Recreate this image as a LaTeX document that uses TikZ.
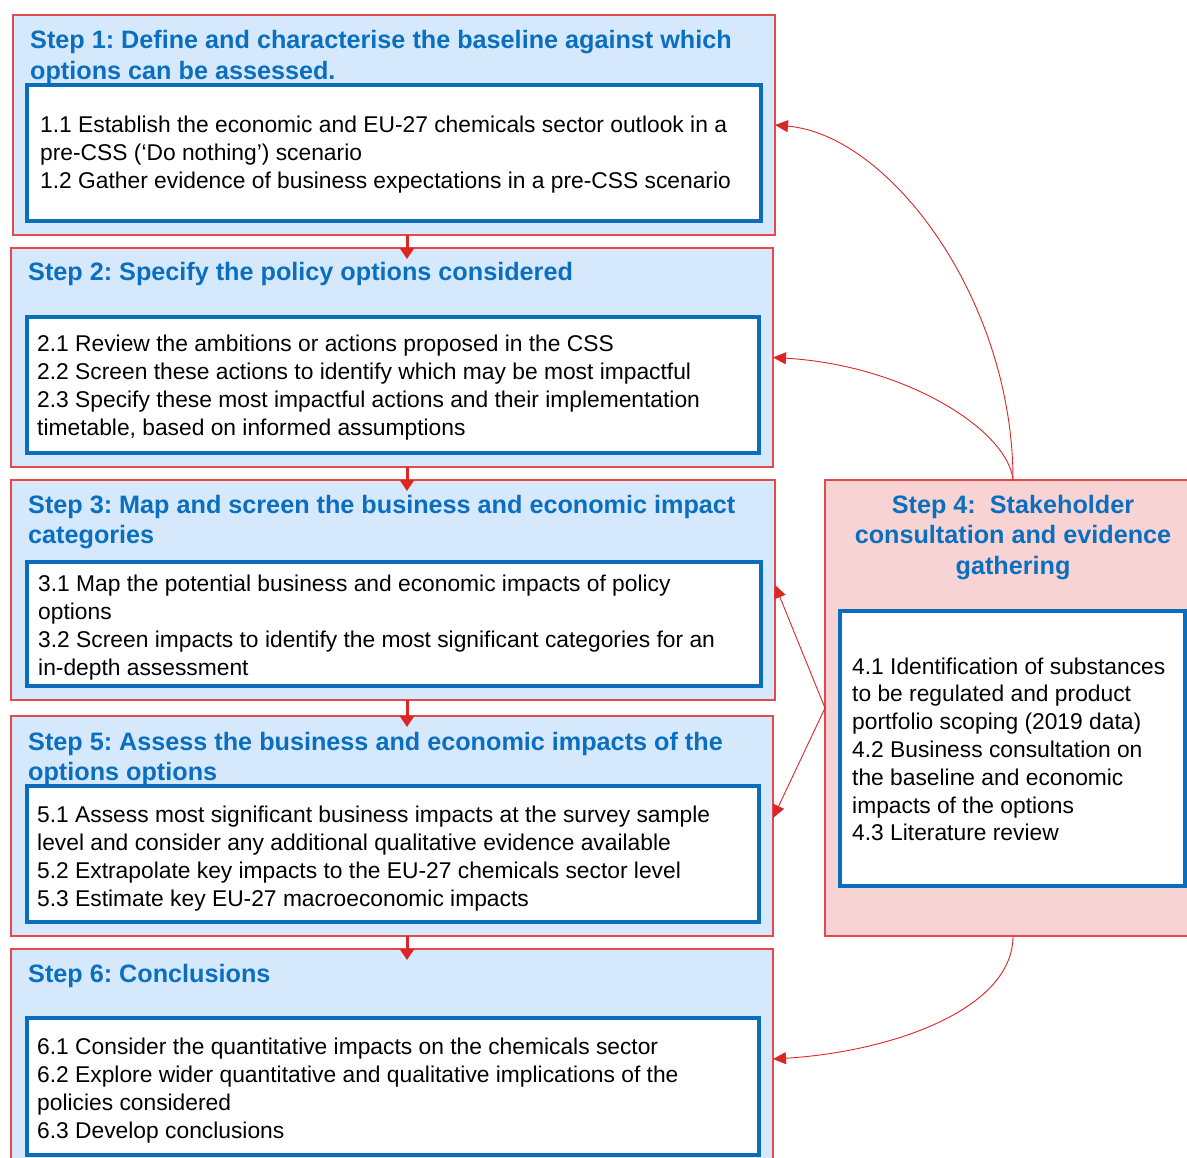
\documentclass[tikz,border=0pt]{standalone}
\usepackage{fontspec}
\setmainfont{Liberation Sans}
\usetikzlibrary{arrows.meta}
\frenchspacing
\definecolor{lblue}{HTML}{D5E8FC}
\definecolor{lpink}{HTML}{F7D3D3}
\definecolor{bred}{HTML}{E5484D}
\definecolor{ared}{HTML}{DC2626}
\definecolor{dblue}{HTML}{0A6EBD}
\definecolor{hblue}{HTML}{0B6FC0}
\newcommand{\blk}[1]{\vtop{\halign{##\hfil\cr #1\crcr}}}
\newcommand{\cblk}[1]{\vtop{\halign{\hfil##\hfil\cr #1\crcr}}}
\begin{document}
\begin{tikzpicture}[x=1pt,y=-1pt,
 outerbox/.style={draw=bred,line width=1.3pt,fill=lblue,anchor=north west,inner sep=0pt,outer sep=0pt},
 innerbox/.style={draw=dblue,line width=4pt,fill=white,anchor=north west,inner sep=0pt,outer sep=0pt},
 head/.style={anchor=base west,inner sep=0pt,text=hblue,font=\fontsize{25.2}{30.5}\selectfont\bfseries},
 body/.style={anchor=base west,inner sep=0pt,font=\fontsize{22.8}{28}\selectfont},
 darr/.style={draw=ared,line width=3pt,-{Triangle[width=14pt,length=11pt]}},
 carr/.style={draw=ared,line width=0.9pt,-{Triangle[width=12pt,length=13pt]}}]
\clip (0,0) rectangle (1187,1158);
\fill[white] (0,0) rectangle (1187,1158);
% Step 1
\node[outerbox,minimum width=762pt,minimum height=220pt] (s1) at (13,15) {};
\node[innerbox,minimum width=734pt,minimum height=136pt] (i1) at (27,85) {};
\node[head] (h1) at (30,49) {\blk{Step 1: Define and characterise the baseline against which\cr options can be assessed.}};
\node[body] (b1) at (40,133) {\blk{1.1 Establish the economic and EU-27 chemicals sector outlook in a\cr pre-CSS (‘Do nothing’) scenario\cr 1.2 Gather evidence of business expectations in a pre-CSS scenario}};
% Step 2
\node[outerbox,minimum width=762pt,minimum height=219pt] (s2) at (11,248) {};
\node[innerbox,minimum width=732pt,minimum height=136pt] (i2) at (27,317) {};
\node[head] (h2) at (28,281) {\blk{Step 2: Specify the policy options considered}};
\node[body] (b2) at (37,352) {\blk{2.1 Review the ambitions or actions proposed in the CSS\cr 2.2 Screen these actions to identify which may be most impactful\cr 2.3 Specify these most impactful actions and their implementation\cr timetable, based on informed assumptions}};
% Step 3
\node[outerbox,minimum width=764pt,minimum height=220pt] (s3) at (11,480) {};
\node[innerbox,minimum width=734pt,minimum height=124pt] (i3) at (27,562) {};
\node[head] (h3) at (28,513) {\blk{Step 3: Map and screen the business and economic impact\cr categories}};
\node[body] (b3) at (38,591) {\blk{3.1 Map the potential business and economic impacts of policy\cr options\cr 3.2 Screen impacts to identify the most significant categories for an\cr in-depth assessment}};
% Step 5
\node[outerbox,minimum width=762pt,minimum height=220pt] (s5) at (11,716) {};
\node[innerbox,minimum width=732pt,minimum height=136pt] (i5) at (27,786) {};
\node[head] (h5) at (28,750) {\blk{Step 5: Assess the business and economic impacts of the\cr options options}};
\node[body] (b5) at (37,822) {\blk{5.1 Assess most significant business impacts at the survey sample\cr level and consider any additional qualitative evidence available\cr 5.2 Extrapolate key impacts to the EU-27 chemicals sector level\cr 5.3 Estimate key EU-27 macroeconomic impacts}};
% Step 6
\node[outerbox,minimum width=762pt,minimum height=220pt] (s6) at (11,949) {};
\node[innerbox,minimum width=732pt,minimum height=137pt] (i6) at (27,1018) {};
\node[head] (h6) at (28,982) {\blk{Step 6: Conclusions}};
\node[body] (b6) at (37,1054) {\blk{6.1 Consider the quantitative impacts on the chemicals sector\cr 6.2 Explore wider quantitative and qualitative implications of the\cr policies considered\cr 6.3 Develop conclusions}};
% Step 4
\node[outerbox,fill=lpink,minimum width=376pt,minimum height=456pt] (s4) at (825,480) {};
\node[innerbox,minimum width=345pt,minimum height=275pt] (i4) at (840,611) {};
\node[head,anchor=base] (h4) at (1013,513) {\cblk{Step 4:\ \ Stakeholder\cr consultation and evidence\cr gathering}};
\node[body,font=\fontsize{22.8}{27.8}\selectfont] (b4) at (852,674) {\blk{4.1 Identification of substances\cr to be regulated and product\cr portfolio scoping (2019 data)\cr 4.2 Business consultation on\cr the baseline and economic\cr impacts of the options\cr 4.3 Literature review}};
% down arrows
\coordinate (ax) at (407,0);
\draw[darr] (ax |- s1.south) -- ([yshift=-11pt]ax |- s2.north);
\draw[darr] (ax |- s2.south) -- ([yshift=-11pt]ax |- s3.north);
\draw[darr] (ax |- s3.south) -- ([yshift=-11pt]ax |- s5.north);
\draw[darr] (ax |- s5.south) -- ([yshift=-11pt]ax |- s6.north);
% curved arrows
\draw[carr] (s4.north) .. controls (1013,300) and (890,135) .. (s1.east);
\draw[carr] (s4.north) .. controls (1008,430) and (905,365) .. (s2.east);
\draw[carr] (s4.west) -- ([yshift=5pt]s3.east);
\draw[carr] (s4.west) -- ([yshift=8pt]s5.east);
\draw[carr] (s4.south) .. controls (1013,1010) and (890,1052) .. (s6.east);
\end{tikzpicture}
\end{document}
